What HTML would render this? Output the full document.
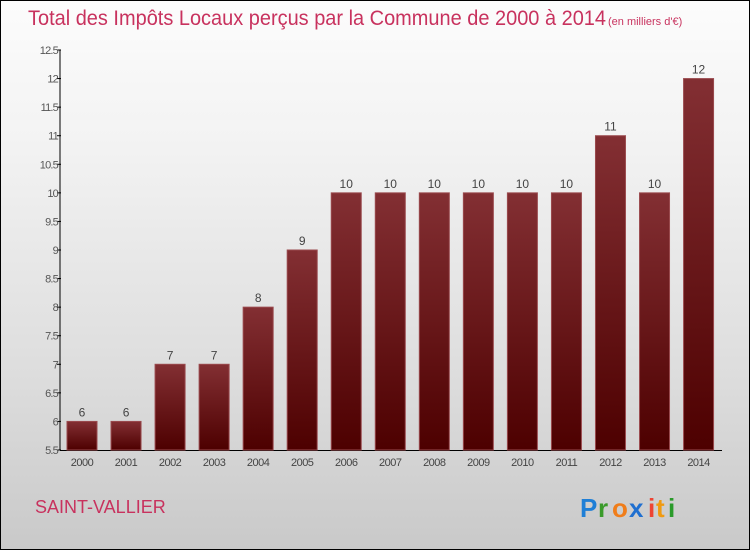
<!DOCTYPE html>
<html><head><meta charset="utf-8"><style>
html,body{margin:0;padding:0}
body{width:750px;height:550px;overflow:hidden;font-family:"Liberation Sans",sans-serif}
#frame{position:absolute;left:0;top:0;width:748px;height:548px;border:1px solid #000;background:linear-gradient(#fcfcfc,#f3f3f3 25%,#dcdcdc 70%,#c9c9c9)}
</style></head><body>
<div id="frame">
<svg width="750" height="550" style="position:absolute;left:-1px;top:-1px">
<defs><linearGradient id="bg" x1="0" y1="0" x2="0" y2="1"><stop offset="0" stop-color="#832f33"/><stop offset="1" stop-color="#4d0000"/></linearGradient></defs>
<text x="28" y="25" font-size="21" fill="#c8325e" font-weight="300" textLength="578" lengthAdjust="spacingAndGlyphs">Total des Impôts Locaux perçus par la Commune de 2000 à 2014</text>
<text x="608" y="25" font-size="11" fill="#c8325e">(en milliers d'€)</text>
<g id="axes"></g><g id="bars"></g>
<text x="35" y="513" font-size="18" fill="#c8325e">SAINT-VALLIER</text>
<g font-size="26" font-weight="bold">
<text x="580" y="517" fill="#1f7fd6">P</text><text x="598" y="517" fill="#3a9a2a">r</text><text x="612" y="517" fill="#f07d1a">o</text><text x="629" y="517" fill="#1f6fd0">x</text><text x="648" y="517" fill="#e43">i</text><text x="656" y="517" fill="#f09a10">t</text><text x="668" y="517" fill="#2a9a2a">i</text>
</g>
</svg></div>
<script>
const years=["2000","2001","2002","2003","2004","2005","2006","2007","2008","2009","2010","2011","2012","2013","2014"];
const values=[6,6,7,7,8,9,10,10,10,10,10,10,11,10,12];
const yTicks=[5.5,6,6.5,7,7.5,8,8.5,9,9.5,10,10.5,11,11.5,12,12.5];
const NS="http://www.w3.org/2000/svg";
const y=v=>450-(v-5.5)*400/7;
const x=i=>82+i*44.04;
function mk(t,a,p){const e=document.createElementNS(NS,t);for(const k in a)e.setAttribute(k,a[k]);p.appendChild(e);return e;}
const ax=document.getElementById('axes'),bg=document.getElementById('bars');
const yl=mk('line',{x1:60,y1:y(12.5),x2:60,y2:450,stroke:'#000'},ax);


const xl=mk('line',{x1:60,y1:450.5,x2:722,y2:450.5,stroke:'#000'},ax);


yTicks.forEach(v=>{
 mk('line',{x1:57,x2:61,y1:y(v),y2:y(v),stroke:'#000'},ax);
 const t=mk('text',{x:58,y:y(v)+4,'font-size':11,fill:'#555','text-anchor':'end','letter-spacing':'-0.8'},ax);t.textContent=String(v);
 
 
});
values.forEach((v,i)=>{
 const r=mk('rect',{x:x(i)-15,y:y(v),width:30,height:450-y(v),fill:'url(#bg)',stroke:'#9a4a4e','stroke-width':1},bg);
 
 
 const l=mk('text',{x:x(i),y:y(v)-5,'font-size':12,fill:'#444','text-anchor':'middle'},bg);l.textContent=v;
 
 
 const xt=mk('text',{x:x(i),y:466,'font-size':11,fill:'#444','text-anchor':'middle','letter-spacing':'-0.5'},bg);xt.textContent=years[i];
 
 
});
</script>
</body></html>
